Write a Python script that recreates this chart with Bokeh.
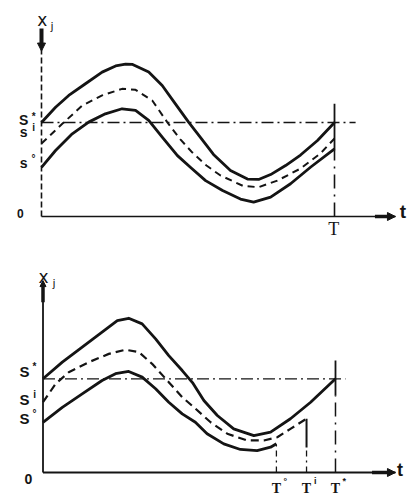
from bokeh.plotting import figure
from bokeh.layouts import column
from bokeh.models import Arrow, NormalHead
from bokeh.core.properties import value
from bokeh.embed import file_html
from bokeh.resources import INLINE

INK = "#141414"

# ---------------- data: top panel (fixed horizon T) ----------------
top_T = 100.0
top_S_star = 50.0
top_t_axis_end = 120.8
top_x_axis_end = 100.0

top_upper_t = [0, 4.8, 9.3, 15.0, 20.7, 25.3, 28.7, 31.1, 36.6, 41.2, 45.7, 50.2,
               54.3, 58.7, 64.5, 70.3, 74.1, 78.2, 83.3, 88.4, 94.2, 100]
top_upper_x = [50, 58.1, 64.4, 70.6, 76.8, 80.1, 81.1, 80.9, 76.8, 69.7, 59.9, 50.2,
               42.0, 33.0, 24.5, 19.9, 19.7, 22.3, 27.1, 32.7, 40.4, 50.0]

top_mid_t = [0, 7.1, 13.9, 20.7, 27.5, 32.1, 37.8, 42.9, 47.4, 51.5, 56.3, 61.1,
             68.9, 74.1, 80.5, 88.4, 95.2, 100]
top_mid_x = [38.8, 49.3, 59.0, 64.4, 67.9, 67.4, 61.7, 50.2, 41.0, 34.0, 27.1, 21.8,
             16.2, 15.6, 19.1, 25.5, 33.5, 41.5]

top_lower_t = [0, 4.8, 10.5, 16.1, 21.8, 27.5, 32.1, 36.6, 41.2, 46.4, 50.9, 56.0,
               61.8, 67.9, 72.4, 78.2, 85.0, 91.8, 100]
top_lower_x = [26.1, 35.1, 44.0, 50.2, 54.6, 57.3, 56.4, 51.1, 42.2, 32.4, 26.1, 19.1,
               13.8, 9.3, 7.6, 10.3, 17.4, 26.2, 36.0]

top_label_base = ["S", "s", "s"]
top_label_sup = ["*", "i", "\u00b0"]
top_label_x = [51.1, 45.2, 28.7]

# ---------------- data: bottom panel (free end times) ----------------
bot_T_star = 100.0
bot_T_i = 90.1
bot_T_0 = 79.8
bot_S_star = 50.0
bot_t_axis_end = 120.5
bot_x_axis_end = 100.9

bot_upper_t = [0, 6.6, 13.4, 20.2, 25.4, 29.3, 33.9, 38.5, 43.0, 47.6, 51.1, 55.0,
               59.6, 65.2, 72.1, 77.8, 84.6, 91.5, 100]
bot_upper_x = [50, 58.9, 66.9, 74.9, 81.1, 82.3, 79.3, 71.3, 62.4, 54.4, 48.0, 38.4,
               30.4, 23.3, 19.7, 21.5, 28.7, 37.5, 50]

bot_mid_t = [0, 4.3, 8.8, 15.7, 22.5, 28.2, 32.8, 37.3, 43.0, 47.6, 51.6, 57.3,
             63.0, 69.8, 75.5, 80.1, 84.6, 90.1]
bot_mid_x = [37.5, 47.3, 53.5, 58.9, 63.3, 65.5, 64.2, 58.0, 48.2, 40.2, 34.8, 26.8,
             20.7, 17.1, 17.1, 18.8, 23.3, 28.7]

bot_lower_t = [0, 6.6, 13.4, 20.2, 24.8, 29.3, 33.9, 38.5, 43.0, 47.6, 52.1, 56.1,
               61.8, 67.5, 73.2, 77.8, 79.8]
bot_lower_x = [26.8, 34.8, 42.0, 49.1, 52.7, 53.9, 50.9, 44.7, 37.5, 31.3, 26.8, 20.7,
               15.3, 12.3, 11.7, 13.5, 15.3]

bot_label_base = ["S", "S", "S"]
bot_label_sup = ["*", "i", "\u00b0"]
bot_label_x = [53.9, 39.0, 28.8]

bot_t_labels = ["T", "T", "T"]
bot_t_sups = ["\u00b0", "i", "*"]
bot_t_pos = [bot_T_0, bot_T_i, bot_T_star]


def make_fig(h, xr, yr):
    p = figure(width=413, height=h, x_range=xr, y_range=yr,
               output_backend="svg", toolbar_location=None,
               x_axis_type=None, y_axis_type=None, min_border=0,
               outline_line_color=None)
    p.background_fill_color = "white"
    p.border_fill_color = "white"
    return p


def txt(p, xs, ys, texts, size, font="Liberation Sans", style="bold",
        align="center", baseline="middle"):
    p.text(x=xs, y=ys, text=texts, text_font=value(font), text_font_size=size,
           text_font_style=style, text_align=align, text_baseline=baseline,
           text_color=INK)


def arrow(p, x0, y0, x1, y1, w=3.5, size=9):
    p.add_layout(Arrow(end=NormalHead(size=size, fill_color=INK, line_color=INK),
                       x_start=x0, y_start=y0, x_end=x1, y_end=y1,
                       line_width=w, line_color=INK))


# ---------------- top figure ----------------
p1 = make_fig(248, (-13.99, 126.96), (-17.02, 114.89))

# axes
p1.line([0, 0], [0, top_x_axis_end], line_color=INK, line_width=1.6, line_dash="6 3")
p1.line([0, top_t_axis_end], [0, 0], line_color=INK, line_width=1.6)
arrow(p1, 0, top_x_axis_end, 0, top_x_axis_end - 12, w=4, size=8)
arrow(p1, top_t_axis_end - 7, 0, top_t_axis_end, 0, w=3.5, size=8)

# reference level S* and horizon T
p1.line([0, top_T * 1.072], [top_S_star, top_S_star], line_color=INK,
        line_width=1.3, line_dash="12 4 2 4")
p1.line([top_T, top_T], [35, 60], line_color=INK, line_width=1.8)
p1.line([top_T, top_T], [0, 35], line_color=INK, line_width=1.6, line_dash="14 6 2 6")

# trajectories
p1.line(top_upper_t, top_upper_x, line_color=INK, line_width=2.8, line_join="round")
p1.line(top_mid_t, top_mid_x, line_color=INK, line_width=2.0, line_dash="7 5")
p1.line(top_lower_t, top_lower_x, line_color=INK, line_width=2.8, line_join="round")

# labels
txt(p1, [0.3], [104.3], ["x"], "17px", font="DejaVu Sans", style="normal")
txt(p1, [3.6], [101.2], ["j"], "11px", font="DejaVu Sans", style="normal")
txt(p1, [-6.1] * 3, top_label_x, top_label_base, "14px")
txt(p1, [-2.7] * 3, [v + 2.3 for v in top_label_x], top_label_sup, "10px")
txt(p1, [-7.2], [1.6], ["0"], "12px")
txt(p1, [top_T - 0.3], [-6.9], ["T"], "18px", font="Liberation Serif", style="normal")
txt(p1, [122.3], [2.7], ["t"], "19px", align="left")

# ---------------- bottom figure ----------------
p2 = make_fig(247, (-14.53, 126.67), (-12.27, 119.53))

p2.line([0, 0], [0, bot_x_axis_end], line_color=INK, line_width=1.8)
p2.line([0, bot_t_axis_end], [0, 0], line_color=INK, line_width=1.8)
arrow(p2, 0, bot_x_axis_end - 10, 0, bot_x_axis_end + 1.5, w=3.5, size=6)
arrow(p2, bot_t_axis_end - 8, 0, bot_t_axis_end, 0, w=3.5, size=8)

p2.line([0, bot_T_star * 1.034], [bot_S_star, bot_S_star], line_color=INK,
        line_width=1.3, line_dash="12 4 2 4")
# terminal times
p2.line([bot_T_star, bot_T_star], [41, 59.8], line_color=INK, line_width=1.8)
p2.line([bot_T_star, bot_T_star], [0, 41], line_color=INK, line_width=1.5, line_dash="14 6 2 6")
p2.line([bot_T_i, bot_T_i], [13.3, bot_mid_x[-1]], line_color=INK, line_width=2.0)
p2.line([bot_T_i, bot_T_i], [0, 13.3], line_color=INK, line_width=1.3, line_dash="6 4 2 4")
p2.line([bot_T_0, bot_T_0], [0, bot_lower_x[-1]], line_color=INK, line_width=1.3,
        line_dash="6 4 2 4")

p2.line(bot_upper_t, bot_upper_x, line_color=INK, line_width=2.8, line_join="round")
p2.line(bot_mid_t, bot_mid_x, line_color=INK, line_width=2.2, line_dash="8 5")
p2.line(bot_lower_t, bot_lower_x, line_color=INK, line_width=2.8, line_join="round")

txt(p2, [0.2], [104.1], ["x"], "17px", font="DejaVu Sans", style="normal")
txt(p2, [3.8], [101.0], ["j"], "11px", font="DejaVu Sans", style="normal")
txt(p2, [-6.3] * 3, bot_label_x, bot_label_base, "15px")
txt(p2, [-2.9] * 3, [v + 2.7 for v in bot_label_x], bot_label_sup, "10px")
txt(p2, [-5.0], [-3.2], ["0"], "14px")
txt(p2, bot_t_pos, [-8.8] * 3, bot_t_labels, "14px", font="Liberation Serif",
    style="bold", baseline="alphabetic")
txt(p2, [v + 3.0 for v in bot_t_pos], [-4.4] * 3, bot_t_sups, "9px")
txt(p2, [121.0], [1.2], ["t"], "18px", align="left")

layout = column(p1, p2, spacing=0)
open("out.html", "w").write(file_html(layout, INLINE))
